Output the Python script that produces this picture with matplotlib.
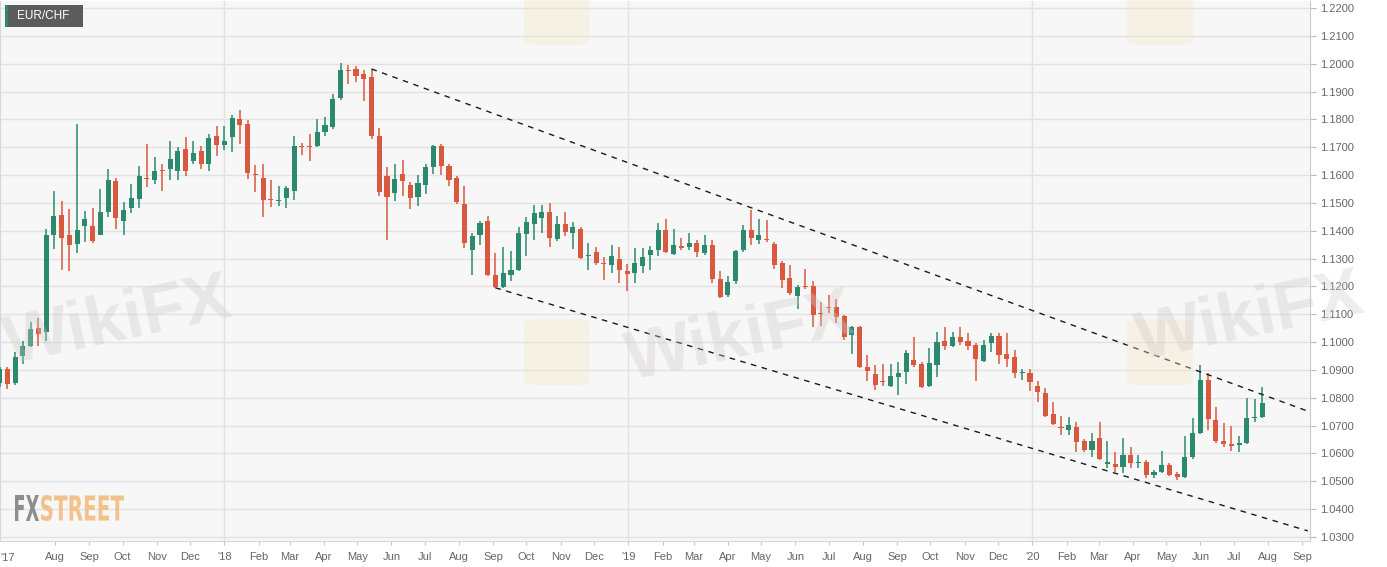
import matplotlib
matplotlib.use("Agg")
import matplotlib.pyplot as plt
import matplotlib.dates as mdates
import numpy as np
import pandas as pd
from matplotlib.patches import Rectangle, PathPatch, FancyBboxPatch
from matplotlib.textpath import TextPath
from matplotlib.font_manager import FontProperties
from matplotlib.transforms import Affine2D, IdentityTransform

plt.rcParams['font.family'] = ['Liberation Sans', 'DejaVu Sans']

# weekly EUR/CHF candles, first week starting 2017-06-12
first_week = '2017-06-12'
opens = [1.0852, 1.0903, 1.0852, 1.0951, 1.0987, 1.1052, 1.1035, 1.1386, 1.1457, 1.1386,
         1.1353, 1.1416, 1.1416, 1.1386, 1.1467, 1.1577, 1.1434, 1.1482, 1.1515, 1.1589,
         1.1583, 1.1617, 1.1623, 1.1613, 1.1692, 1.1649, 1.1685, 1.1640, 1.1742, 1.1709,
         1.1736, 1.1802, 1.1784, 1.1603, 1.1590, 1.1512, 1.1508, 1.1517, 1.1544, 1.1705,
         1.1702, 1.1703, 1.1754, 1.1772, 1.1877, 1.1977, 1.1980, 1.1962, 1.1952, 1.1742,
         1.1595, 1.1536, 1.1604, 1.1566, 1.1520, 1.1565, 1.1628, 1.1704, 1.1634, 1.1589,
         1.1496, 1.1331, 1.1385, 1.1436, 1.1242, 1.1199, 1.1242, 1.1260, 1.1388, 1.1424,
         1.1445, 1.1466, 1.1370, 1.1424, 1.1392, 1.1406, 1.1308, 1.1325, 1.1284, 1.1278,
         1.1299, 1.1254, 1.1247, 1.1275, 1.1313, 1.1329, 1.1403, 1.1317, 1.1345, 1.1341,
         1.1356, 1.1320, 1.1347, 1.1227, 1.1169, 1.1218, 1.1329, 1.1404, 1.1365, 1.1368,
         1.1353, 1.1284, 1.1229, 1.1167, 1.1203, 1.1200, 1.1106, 1.1127, 1.1127, 1.1092,
         1.1026, 1.1053, 1.0909, 1.0885, 1.0862, 1.0841, 1.0873, 1.0891, 1.0935, 1.0921,
         1.0843, 1.0917, 1.1005, 1.0987, 1.1019, 1.1005, 1.0989, 1.0933, 1.0997, 1.1021,
         1.0956, 1.0945, 1.0889, 1.0890, 1.0843, 1.0818, 1.0742, 1.0696, 1.0685, 1.0694,
         1.0643, 1.0613, 1.0655, 1.0563, 1.0561, 1.0553, 1.0595, 1.0565, 1.0569, 1.0521,
         1.0533, 1.0559, 1.0526, 1.0517, 1.0589, 1.0673, 1.0864, 1.0720, 1.0643, 1.0634,
         1.0631, 1.0637, 1.0726, 1.0730]
highs = [1.0910, 1.0909, 1.0963, 1.1003, 1.1071, 1.1087, 1.1407, 1.1541, 1.1505, 1.1479,
         1.1784, 1.1470, 1.1482, 1.1551, 1.1623, 1.1590, 1.1503, 1.1569, 1.1631, 1.1712,
         1.1665, 1.1641, 1.1724, 1.1700, 1.1736, 1.1724, 1.1706, 1.1748, 1.1776, 1.1776,
         1.1814, 1.1835, 1.1796, 1.1637, 1.1640, 1.1583, 1.1562, 1.1562, 1.1741, 1.1716,
         1.1748, 1.1802, 1.1808, 1.1890, 1.2002, 1.1996, 1.1990, 1.1978, 1.1982, 1.1769,
         1.1628, 1.1640, 1.1655, 1.1574, 1.1601, 1.1640, 1.1709, 1.1712, 1.1640, 1.1598,
         1.1559, 1.1391, 1.1436, 1.1452, 1.1320, 1.1341, 1.1326, 1.1412, 1.1448, 1.1493,
         1.1493, 1.1499, 1.1454, 1.1466, 1.1430, 1.1412, 1.1355, 1.1343, 1.1307, 1.1349,
         1.1341, 1.1281, 1.1337, 1.1337, 1.1344, 1.1428, 1.1442, 1.1406, 1.1374, 1.1392,
         1.1365, 1.1385, 1.1365, 1.1257, 1.1239, 1.1331, 1.1422, 1.1476, 1.1442, 1.1439,
         1.1359, 1.1293, 1.1278, 1.1206, 1.1263, 1.1221, 1.1145, 1.1170, 1.1155, 1.1098,
         1.1059, 1.1059, 1.0954, 1.0918, 1.0921, 1.0921, 1.0927, 1.0972, 1.1019, 1.0927,
         1.0978, 1.1035, 1.1055, 1.1038, 1.1056, 1.1031, 1.0995, 1.1009, 1.1031, 1.1031,
         1.1034, 1.0971, 1.0905, 1.0905, 1.0861, 1.0834, 1.0786, 1.0736, 1.0730, 1.0714,
         1.0652, 1.0673, 1.0712, 1.0646, 1.0607, 1.0655, 1.0622, 1.0595, 1.0575, 1.0539,
         1.0609, 1.0565, 1.0535, 1.0661, 1.0726, 1.0917, 1.0890, 1.0768, 1.0711, 1.0700,
         1.0664, 1.0798, 1.0794, 1.0837]
lows = [1.0840, 1.0831, 1.0847, 1.0921, 1.0981, 1.0987, 1.1005, 1.1335, 1.1259, 1.1254,
        1.1320, 1.1359, 1.1355, 1.1384, 1.1449, 1.1406, 1.1385, 1.1464, 1.1482, 1.1557,
        1.1569, 1.1541, 1.1583, 1.1583, 1.1598, 1.1640, 1.1620, 1.1613, 1.1668, 1.1691,
        1.1682, 1.1712, 1.1586, 1.1538, 1.1448, 1.1487, 1.1490, 1.1482, 1.1511, 1.1673,
        1.1652, 1.1700, 1.1739, 1.1764, 1.1868, 1.1926, 1.1934, 1.1866, 1.1730, 1.1524,
        1.1367, 1.1506, 1.1524, 1.1478, 1.1488, 1.1532, 1.1602, 1.1601, 1.1562, 1.1496,
        1.1338, 1.1242, 1.1350, 1.1239, 1.1193, 1.1194, 1.1221, 1.1257, 1.1311, 1.1367,
        1.1391, 1.1341, 1.1364, 1.1380, 1.1335, 1.1299, 1.1260, 1.1278, 1.1223, 1.1248,
        1.1212, 1.1185, 1.1212, 1.1247, 1.1260, 1.1311, 1.1319, 1.1314, 1.1332, 1.1329,
        1.1307, 1.1314, 1.1212, 1.1158, 1.1163, 1.1209, 1.1323, 1.1347, 1.1353, 1.1361,
        1.1263, 1.1193, 1.1169, 1.1119, 1.1191, 1.1053, 1.1059, 1.1103, 1.1067, 1.1008,
        1.0959, 1.0906, 1.0861, 1.0829, 1.0843, 1.0837, 1.0809, 1.0849, 1.0911, 1.0835,
        1.0837, 1.0873, 1.0971, 1.0983, 1.0990, 1.0972, 1.0861, 1.0929, 1.0965, 1.0921,
        1.0911, 1.0870, 1.0864, 1.0824, 1.0786, 1.0732, 1.0702, 1.0667, 1.0667, 1.0607,
        1.0607, 1.0587, 1.0577, 1.0547, 1.0535, 1.0529, 1.0547, 1.0547, 1.0511, 1.0511,
        1.0529, 1.0520, 1.0505, 1.0511, 1.0580, 1.0669, 1.0684, 1.0637, 1.0625, 1.0610,
        1.0607, 1.0634, 1.0712, 1.0726]
closes = [1.0903, 1.0849, 1.0947, 1.0987, 1.1047, 1.1029, 1.1383, 1.1452, 1.1373, 1.1347,
          1.1404, 1.1443, 1.1364, 1.1468, 1.1581, 1.1444, 1.1475, 1.1518, 1.1597, 1.1587,
          1.1615, 1.1614, 1.1659, 1.1688, 1.1614, 1.1680, 1.1640, 1.1733, 1.1709, 1.1724,
          1.1805, 1.1778, 1.1607, 1.1600, 1.1512, 1.1510, 1.1510, 1.1553, 1.1706, 1.1701,
          1.1700, 1.1754, 1.1778, 1.1872, 1.1978, 1.1975, 1.1956, 1.1945, 1.1739, 1.1538,
          1.1520, 1.1586, 1.1578, 1.1518, 1.1571, 1.1628, 1.1704, 1.1631, 1.1583, 1.1502,
          1.1355, 1.1380, 1.1427, 1.1242, 1.1199, 1.1248, 1.1260, 1.1392, 1.1430, 1.1464,
          1.1469, 1.1373, 1.1424, 1.1394, 1.1412, 1.1302, 1.1314, 1.1283, 1.1282, 1.1311,
          1.1260, 1.1245, 1.1284, 1.1307, 1.1329, 1.1404, 1.1323, 1.1350, 1.1338, 1.1356,
          1.1323, 1.1347, 1.1227, 1.1163, 1.1215, 1.1326, 1.1403, 1.1373, 1.1383, 1.1365,
          1.1278, 1.1223, 1.1176, 1.1197, 1.1199, 1.1098, 1.1101, 1.1123, 1.1091, 1.1017,
          1.1053, 1.0909, 1.0897, 1.0847, 1.0858, 1.0879, 1.0888, 1.0960, 1.0918, 1.0839,
          1.0924, 1.1001, 1.0987, 1.1017, 1.0999, 1.0987, 1.0939, 1.0988, 1.1021, 1.0953,
          1.0941, 1.0890, 1.0891, 1.0858, 1.0819, 1.0736, 1.0706, 1.0692, 1.0702, 1.0640,
          1.0613, 1.0645, 1.0581, 1.0569, 1.0551, 1.0595, 1.0565, 1.0571, 1.0521, 1.0533,
          1.0559, 1.0523, 1.0517, 1.0589, 1.0673, 1.0864, 1.0723, 1.0643, 1.0634, 1.0628,
          1.0637, 1.0726, 1.0732, 1.0782]

# channel lines (start point, end point)
upper_line = (['2018-05-14', '2020-09-06'], [1.1981, 1.0752])
lower_line = (['2018-09-03', '2020-09-06'], [1.1195, 1.0322])

y_ticks = np.round(np.arange(1.03, 1.2201, 0.01), 2)

GREEN = '#2b8a6e'
RED = '#d9593f'

W, H = 1387, 567
fig = plt.figure(figsize=(W / 100, H / 100), dpi=100)
fig.patch.set_facecolor('white')
ax = fig.add_axes([0.0, 26 / H, 1310 / W, 540 / H])
ax.set_facecolor('#f7f7f7')

dates = pd.date_range(first_week, periods=len(opens), freq='W-MON')
x = mdates.date2num(dates.to_pydatetime())
o = np.array(opens); h = np.array(highs); l = np.array(lows); c = np.array(closes)
up = c >= o
colors = np.where(up, GREEN, RED)

ax.vlines(x, l, h, colors=colors, linewidth=1.1, zorder=3)
body_low = np.minimum(o, c)
body_h = np.maximum(np.abs(c - o), 0.00035)
ax.bar(x, body_h, bottom=body_low, width=4.6, color=colors, linewidth=0, zorder=4)

# channel
x0 = mdates.date2num(pd.to_datetime('2017-06-12'))
x1 = mdates.date2num(pd.to_datetime('2020-09-08'))
for dts, vals in (upper_line, lower_line):
    ax.plot(mdates.date2num(pd.to_datetime(dts).to_pydatetime()), vals, color='#1a1a1a',
            linestyle=(0, (4, 4)), linewidth=1.0, zorder=5)

ax.set_xlim(x0 + 0.3, x1)
ax.set_ylim(1.02856, 1.22251)

# grid
ax.set_yticks(y_ticks)
ax.set_yticklabels([f'{v:.4f}' for v in y_ticks])
ax.yaxis.tick_right()
ax.grid(axis='y', color='#e2e2e2', linewidth=1.0, zorder=0)
for yr in ['2018-01-01', '2019-01-01', '2020-01-01']:
    ax.axvline(mdates.date2num(pd.to_datetime(yr)), color='#e2e2e2', linewidth=1.0, zorder=0)

months = pd.date_range('2017-08-01', '2020-09-01', freq='MS')
ax.set_xticks(mdates.date2num(months.to_pydatetime()))
ax.set_xticklabels(["'" + m.strftime('%y') if m.month == 1 else m.strftime('%b') for m in months])
ax.text(0.0, -0.022, "'17", transform=ax.transAxes, ha='left', va='top', fontsize=8, color='#666666')

ax.tick_params(axis='x', length=3, color='#c8c8c8', labelsize=8, labelcolor='#666666', pad=5)
ax.tick_params(axis='y', length=4, color='#b8b8b8', labelsize=8, labelcolor='#666666', pad=3)
ax.spines['top'].set_visible(False)
ax.spines['left'].set_color('#d4d6e6')
ax.spines['bottom'].set_color('#d4d6e4')
ax.spines['right'].set_color('#c8cad8')

# title box
fig.add_artist(Rectangle((5 / W, 1 - 27 / H), 78 / W, 22 / H, transform=fig.transFigure,
                         facecolor='#5c5c5c', edgecolor='none', zorder=10))
fig.add_artist(Rectangle((5 / W, 1 - 27 / H), 2.5 / W, 22 / H, transform=fig.transFigure,
                         facecolor=GREEN, edgecolor='none', zorder=11))
fig.text(17 / W, 1 - 16 / H, 'EUR/CHF', color='white', fontsize=8.5, va='center', ha='left', zorder=12)

# watermarks
for cx, cy in [(557, 352), (1160, 352), (557, 12), (1160, 12)]:
    fig.add_artist(FancyBboxPatch(((cx - 33) / W, 1 - (cy + 33) / H), 66 / W, 66 / H,
                                  boxstyle='round,pad=0,rounding_size=0.01', transform=fig.transFigure,
                                  facecolor='#f6e7c4', edgecolor='none', alpha=0.35, zorder=8))
for tx, ty in [(118, 322), (740, 338), (1250, 318)]:
    fig.text(tx / W, 1 - ty / H, 'WikiFX', fontsize=50, fontweight='bold', color='#cfc8c8',
             alpha=0.35, rotation=12, ha='center', va='center', zorder=8)


def logo_part(s, xa, xb, ytop, ybot, color):
    tp = TextPath((0, 0), s, size=100, prop=FontProperties(family='DejaVu Sans', weight='bold'))
    ext = tp.get_extents()
    tr = (Affine2D().translate(-ext.x0, -ext.y0)
          .scale((xb - xa) / ext.width, (ybot - ytop) / ext.height)
          .translate(xa, H - ybot))
    fig.add_artist(PathPatch(tr.transform_path(tp), facecolor=color, edgecolor='none',
                             transform=IdentityTransform(), zorder=9))


logo_part('FX', 15, 39, 495, 521, '#8d8d8d')
logo_part('STREET', 41, 124, 495, 521, '#f2c28a')

fig.savefig('out.png', dpi=100)
